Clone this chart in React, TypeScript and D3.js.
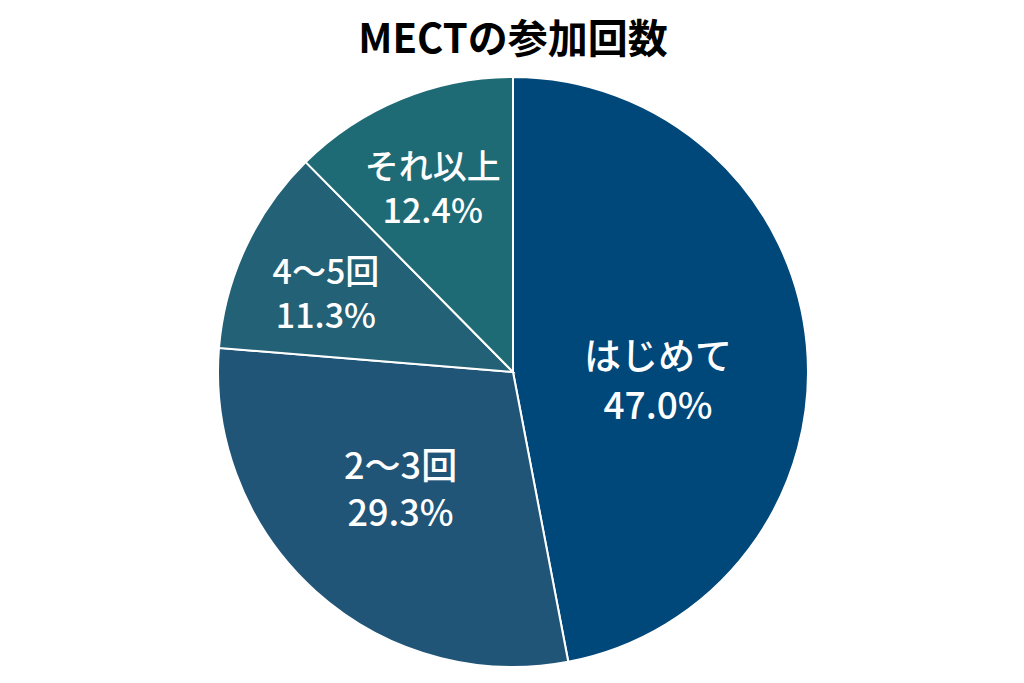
import React from "react";
import * as d3 from "d3";

const categories = ["はじめて", "2〜3回", "4〜5回", "それ以上"];
const values = [47.0, 29.3, 11.3, 12.4];
const colors = ["#00477A", "#215577", "#226176", "#1F6B75"];
const title = "MECTの参加回数";

// layout: label radius (fraction of R) and fine offset from the centroid
const labelRadiusFrac = [0.47, 0.57, 0.7, 0.69];
const labelShift: [number, number][] = [[7, 17], [0, -13], [0, 4], [-3, 0]];
const labelFont = [37, 36, 34, 34];

const W = 1024, H = 683;
const cx = 513, cy = 372, R = 295;

export default function App() {
  const pie = d3.pie<number>().sort(null).value((d) => d)(values);
  const arc = d3.arc<d3.PieArcDatum<number>>().innerRadius(0).outerRadius(R);
  const font = "'Noto Sans CJK JP', 'Noto Sans', sans-serif";
  return (
    <svg width={W} height={H} style={{ position: "absolute", left: 0, top: 0, background: "#fff" }}>
      <text x={cx} y={53} textAnchor="middle" fontFamily={font} fontWeight="bold" fontSize={40} fill="#000">
        {title}
      </text>
      <g transform={`translate(${cx},${cy})`}>
        {pie.map((p, i) => (
          <path key={i} d={arc(p) || ""} fill={colors[i]} stroke="#fff" strokeWidth={2} />
        ))}
        {pie.map((p, i) => {
          const a = (p.startAngle + p.endAngle) / 2;
          const r = R * labelRadiusFrac[i];
          const x = Math.sin(a) * r + labelShift[i][0];
          const y = -Math.cos(a) * r + labelShift[i][1];
          const fs = labelFont[i];
          return (
            <text key={"t" + i} x={x} y={y} textAnchor="middle" fontFamily={font} fontWeight={500} fontSize={fs} fill="#fff">
              <tspan x={x} dy={-fs * 0.15}>{categories[i]}</tspan>
              <tspan x={x} dy={fs * 1.32}>{values[i].toFixed(1)}%</tspan>
            </text>
          );
        })}
      </g>
    </svg>
  );
}
